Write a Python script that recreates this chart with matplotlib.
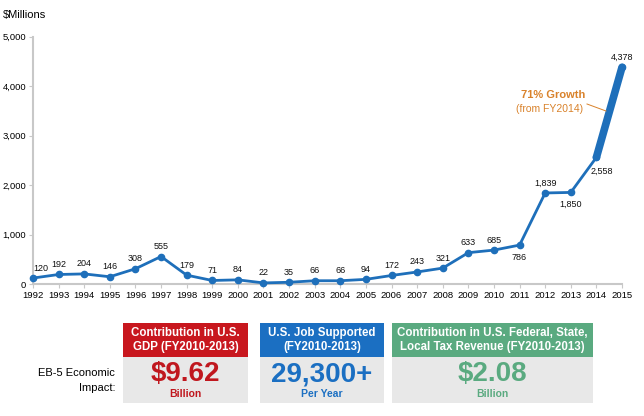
import matplotlib.pyplot as plt
from matplotlib.patches import Rectangle

years = list(range(1992, 2016))
values = [120, 192, 204, 146, 308, 555, 179, 71, 84, 22, 35, 66, 66, 94,
          172, 243, 321, 633, 685, 786, 1839, 1850, 2558, 4378]
# label placement: 'a' above, 'b' below
label_pos = ['a'] * 19 + ['b', 'a', 'b', 'b', 'a']

box_titles = ['Contribution in U.S.\nGDP (FY2010-2013)',
              'U.S. Job Supported\n(FY2010-2013)',
              'Contribution in U.S. Federal, State,\nLocal Tax Revenue (FY2010-2013)']
box_values = ['$9.62', '29,300+', '$2.08']
box_units = ['Billion', 'Per Year', 'Billion']
box_colors = ['#c8171e', '#1b6fc2', '#5aaa80']
box_text_colors = ['#c0171e', '#1b6fc2', '#5aaa80']

plt.rcParams['font.family'] = ['Liberation Sans', 'DejaVu Sans']

W, H = 644, 416
fig = plt.figure(figsize=(W / 100, H / 100), dpi=100)
ax = fig.add_axes([33 / W, 1 - 284 / H, (622 - 33) / W, (284 - 36.5) / H])

blue = '#1e6fba'
ax.plot(years, values, color=blue, lw=2, marker='o', ms=4.5, zorder=3)
ax.plot(years[-2:], values[-2:], color=blue, lw=5.5, solid_capstyle='round', zorder=3)

for i, (x, v) in enumerate(zip(years, values)):
    dx, dy = 0, 10
    if label_pos[i] == 'b':
        dy = -12
    if i == 0:
        dx = 8
    if i == 22:
        dx, dy = 5, -14
    ax.annotate(f'{v:,}', (x, v), xytext=(dx * 0.72, dy * 0.72),
                textcoords='offset points', ha='center', va='center',
                fontsize=6.5, color='#111111')

ax.set_xlim(1992, 2015)
ax.set_ylim(0, 5000)
ax.set_xticks(years)
ax.set_xticklabels([str(y) for y in years], fontsize=6.8)
ax.set_yticks(range(0, 5001, 1000))
ax.set_yticklabels([f'{t:,}' for t in range(0, 5001, 1000)], fontsize=6.8)
for s in ['top', 'right']:
    ax.spines[s].set_visible(False)
for s in ['left', 'bottom']:
    ax.spines[s].set_color('#c8c8c8')
    ax.spines[s].set_linewidth(1.5)
ax.tick_params(axis='both', color='#c8c8c8', length=3, pad=2)
for line in ax.lines:
    line.set_clip_on(False)

fig.text(3 / W, 1 - 15 / H, '$Millions', fontsize=8, va='center', ha='left')

orange = '#d9822b'
fig.text(553 / W, 1 - 95 / H, '71% Growth', color=orange, fontsize=8,
         fontweight='bold', ha='center', va='center')
fig.text(550 / W, 1 - 109 / H, '(from FY2014)', color=orange, fontsize=7.5,
         ha='center', va='center')
fig.add_artist(plt.Line2D([587 / W, 606 / W], [1 - 104 / H, 1 - 111 / H],
                          transform=fig.transFigure, color=orange, lw=0.7))

# boxes
box_x = [(123, 248), (260, 384), (392, 593)]
top, mid, bot = 323, 357, 403
for (x0, x1), title, val, unit, c, tc in zip(box_x, box_titles, box_values,
                                            box_units, box_colors, box_text_colors):
    fig.add_artist(Rectangle((x0 / W, 1 - mid / H), (x1 - x0) / W, (mid - top) / H,
                             transform=fig.transFigure, color=c, lw=0))
    fig.add_artist(Rectangle((x0 / W, 1 - bot / H), (x1 - x0) / W, (bot - mid) / H,
                             transform=fig.transFigure, color='#e8e8e8', lw=0))
    cx = (x0 + x1) / 2 / W
    fig.text(cx, 1 - (top + mid) / 2 / H, title, color='white', fontsize=8.3,
             fontweight='bold', ha='center', va='center', linespacing=1.25)
    fig.text(cx, 1 - 374 / H, val, color=tc, fontsize=20, fontweight='bold',
             ha='center', va='center')
    fig.text(cx, 1 - 394 / H, unit, color=tc, fontsize=7.5, fontweight='bold',
             ha='center', va='center')

fig.text(115 / W, 1 - 373 / H, 'EB-5 Economic', fontsize=8, ha='right', va='center')
fig.text(115 / W, 1 - 388 / H, 'Impact:', fontsize=8, ha='right', va='center')

fig.savefig('out.png', dpi=100)
